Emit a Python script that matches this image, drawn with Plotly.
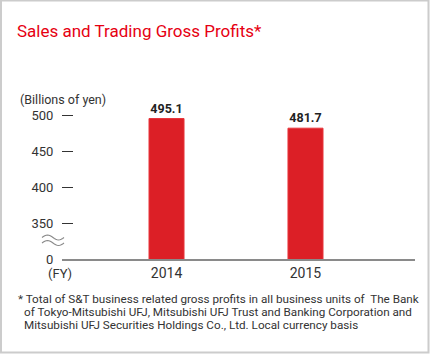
import plotly.graph_objects as go
import math

years = ["2014", "2015"]
profits = [495.1, 481.7]
tick_vals = [350, 400, 450, 500]
tick_text = ["350", "400", "450", "500"]

W, H = 430, 354
L, R, T, B = 62, 15, 90, 95
PW, PH = W - L - R, H - T - B

def px(x):
    return (x - L) / PW

def py(y):
    return (H - B - y) / PH

RED = "#dc1f26"
TXT = "#333333"
FONT = "Roboto"

fig = go.Figure()
fig.add_trace(go.Bar(
    x=years, y=profits, width=0.252,
    marker=dict(color=RED, line=dict(color="#e8353b", width=1)),
    texttemplate="<b>%{y:.1f}</b>", textposition="outside",
    textfont=dict(size=12.5, color="#222", family=FONT),
    cliponaxis=False, hoverinfo="skip",
))

annos = [
    dict(x=px(15), y=py(31), text="Sales and Trading Gross Profits*", xanchor="left",
         font=dict(size=17, color="#e60012")),
    dict(x=px(18), y=py(99), text="(Billions of yen)", xanchor="left",
         font=dict(size=12.5, color=TXT)),
    dict(x=px(55), y=py(259), text="0", xanchor="right", font=dict(size=13, color=TXT)),
    dict(x=px(60), y=py(273), text="(FY)", xanchor="center", font=dict(size=13, color=TXT)),
    dict(x=px(16), y=py(299), text="* Total of S&T business related gross profits in all business units of  The Bank",
         xanchor="left", font=dict(size=11.7, color=TXT)),
    dict(x=px(22), y=py(312), text="of Tokyo-Mitsubishi UFJ, Mitsubishi UFJ Trust and Banking Corporation and",
         xanchor="left", font=dict(size=11.7, color=TXT)),
    dict(x=px(22), y=py(325), text="Mitsubishi UFJ Securities Holdings Co., Ltd. Local currency basis",
         xanchor="left", font=dict(size=11.7, color=TXT)),
]
for a in annos:
    a.update(xref="paper", yref="paper", showarrow=False, yanchor="middle")
    a["font"]["family"] = FONT

def wave(x0, y0, w, a):
    pts = []
    n = 16
    for i in range(n + 1):
        t = i / n
        xx = x0 + w * t
        yy = y0 - a * math.sin(2 * math.pi * t)
        pts.append((px(xx), py(yy)))
    return "M " + " L ".join(f"{p[0]:.5f},{p[1]:.5f}" for p in pts)

shapes = [
    dict(type="path", path=wave(42, 237.5, 22, 2.5), line=dict(color="#888", width=1.1)),
    dict(type="path", path=wave(42, 243, 22, 2.5), line=dict(color="#888", width=1.1)),
    dict(type="rect", x0=px(1), x1=px(428.5), y0=py(0.5), y1=py(352.5),
         line=dict(color="#cccccc", width=2)),
]
for s in shapes:
    s.update(xref="paper", yref="paper", layer="above")

fig.update_layout(
    width=W, height=H, margin=dict(l=L, r=R, t=T, b=B),
    paper_bgcolor="white", plot_bgcolor="white",
    showlegend=False, annotations=annos, shapes=shapes,
    font=dict(family=FONT, color=TXT),
    xaxis=dict(type="category", range=[-0.752, 1.788], showgrid=False,
               showline=True, linecolor="#8a8a8a", linewidth=1.5, ticks="",
               tickfont=dict(size=14, color=TXT), zeroline=False),
    yaxis=dict(range=[300, 300 + PH / 0.72], tickvals=tick_vals, ticktext=tick_text,
               anchor="free", position=px(73), showgrid=False, zeroline=False,
               showline=False, ticks="outside", ticklen=11, tickcolor="#333",
               tickwidth=1, ticklabelstandoff=6, tickfont=dict(size=13, color=TXT)),
)

fig.write_html("out.html")
